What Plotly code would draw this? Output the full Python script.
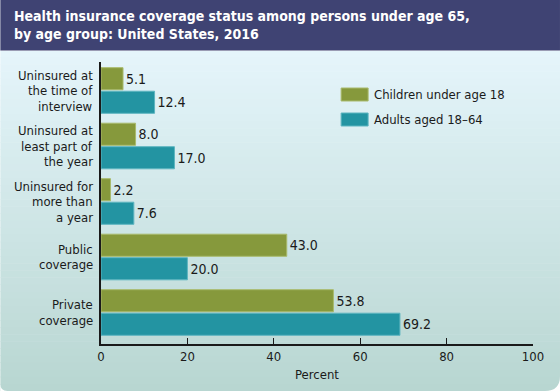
import plotly.graph_objects as go

categories = [
    "Uninsured at<br>the time of<br>interview",
    "Uninsured at<br>least part of<br>the year",
    "Uninsured for<br>more than<br>a year",
    "Public<br>coverage",
    "Private<br>coverage",
]
children = [5.1, 8.0, 2.2, 43.0, 53.8]
adults = [12.4, 17.0, 7.6, 20.0, 69.2]
series_names = ["Children under age 18", "Adults aged 18\u201364"]
x_ticks = [0, 20, 40, 60, 80, 100]
title_text = ("Health insurance coverage status among persons under age 65,<br>"
              "by age group: United States, 2016")

FONT = "DejaVu Sans Condensed, Liberation Sans Narrow, sans-serif"
GREEN, GREEN_EDGE = "#86993c", "#a9ba6c"
TEAL, TEAL_EDGE = "#2394a2", "#5db5c0"
TXT = "#1a1a1a"

W, H = 560, 391
L, R, T, B = 100.7, 27, 62, 47
PW, PH = W - L - R, H - T - B


def px(x):
    return (x - L) / PW


def py(y):
    return (H - B - y) / PH


idx = list(range(len(categories)))

fig = go.Figure()
fig.add_trace(go.Bar(
    y=idx, x=children, orientation="h", name=series_names[0],
    marker=dict(color=GREEN, line=dict(color=GREEN_EDGE, width=1)),
    text=[f"{v:.1f}" for v in children], textposition="outside",
    textfont=dict(family=FONT, size=14, color=TXT), cliponaxis=False,
    showlegend=False,
))
fig.add_trace(go.Bar(
    y=idx, x=adults, orientation="h", name=series_names[1],
    marker=dict(color=TEAL, line=dict(color=TEAL_EDGE, width=1)),
    text=[f"{v:.1f}" for v in adults], textposition="outside",
    textfont=dict(family=FONT, size=14, color=TXT), cliponaxis=False,
    showlegend=False,
))

shapes = []
# background gradient
top_c = (229, 245, 251)
bot_c = (184, 214, 209)
y0, y1 = 50, H
n = 48
for i in range(n):
    a = y0 + (y1 - y0) * i / n
    b = y0 + (y1 - y0) * (i + 1) / n
    t = (i + 0.5) / n
    c = tuple(round(top_c[k] + (bot_c[k] - top_c[k]) * t) for k in range(3))
    shapes.append(dict(type="rect", xref="paper", yref="paper",
                       x0=px(0), x1=px(W), y0=py(b + 0.5), y1=py(a),
                       fillcolor=f"rgb{c}", line=dict(width=0), layer="below"))
# banner
shapes.append(dict(type="rect", xref="paper", yref="paper",
                   x0=px(0), x1=px(W), y0=py(50), y1=py(0),
                   fillcolor="#3f4373", line=dict(width=0), layer="below"))
shapes.append(dict(type="line", xref="paper", yref="paper",
                   x0=px(0), x1=px(W), y0=py(50.5), y1=py(50.5),
                   line=dict(color="#9a9cb4", width=1), layer="below"))


# rounded corner masks
def corner(cx, cy, ex, ey, fx, fy):
    return (f"M {px(cx)},{py(cy)} L {px(ex)},{py(ey)} "
            f"Q {px(cx)},{py(cy)} {px(fx)},{py(fy)} Z")


shapes.append(dict(type="path", xref="paper", yref="paper",
                   path=corner(W, H, W, H - 15, W - 15, H),
                   fillcolor="white", line=dict(width=0), layer="below"))
shapes.append(dict(type="path", xref="paper", yref="paper",
                   path=corner(0, H, 0, H - 7, 7, H),
                   fillcolor="white", line=dict(width=0), layer="below"))

# legend swatches
for i, (col, edge) in enumerate([(GREEN, GREEN_EDGE), (TEAL, TEAL_EDGE)]):
    top = 88 + 25 * i
    shapes.append(dict(type="rect", xref="paper", yref="paper",
                       x0=px(341), x1=px(368), y0=py(top + 13), y1=py(top),
                       fillcolor=col, line=dict(color=edge, width=1)))

annotations = []
# title
annotations.append(dict(text=title_text, xref="paper", yref="paper",
                        x=px(12), y=py(25), xanchor="left", yanchor="middle",
                        align="left", showarrow=False,
                        font=dict(family=FONT, size=14, color="white",
                                  weight="bold")))

for i, name in enumerate(series_names):
    annotations.append(dict(text=name, xref="paper", yref="paper",
                            x=px(372), y=py(94.5 + 25 * i), xanchor="left",
                            yanchor="middle", showarrow=False,
                            font=dict(family=FONT, size=13, color=TXT)))

# category labels, one annotation per line
for i, cat in enumerate(categories):
    lines = cat.split("<br>")
    nl = len(lines)
    for j, ln in enumerate(lines):
        off = (j - (nl - 1) / 2) * 15.5
        annotations.append(dict(text=ln, xref="paper", yref="y",
                                x=px(95), y=i, yshift=-off,
                                xanchor="right", yanchor="middle",
                                showarrow=False,
                                font=dict(family=FONT, size=13, color=TXT)))

annotations.append(dict(text="Percent", xref="paper", yref="paper",
                        x=px(316.5), y=py(374), xanchor="center",
                        yanchor="middle", showarrow=False,
                        font=dict(family=FONT, size=13, color=TXT)))

fig.update_layout(
    width=W, height=H,
    margin=dict(l=L, r=R, t=T, b=B, pad=0),
    paper_bgcolor="white", plot_bgcolor="rgba(0,0,0,0)",
    barmode="group", bargap=0.153, bargroupgap=0.06,
    shapes=shapes, annotations=annotations,
    xaxis=dict(range=[0, 100], tickvals=x_ticks, ticks="inside", ticklen=6,
               tickwidth=1, tickcolor=TXT, showline=True, linecolor=TXT,
               linewidth=1.5, showgrid=False, zeroline=False,
               tickfont=dict(family=FONT, size=13, color=TXT)),
    yaxis=dict(range=[4.5676, -0.5135], showticklabels=False, ticks="",
               showline=True, linecolor=TXT, linewidth=1.5,
               showgrid=False, zeroline=False),
)

fig.write_html("out.html", config={"displayModeBar": False},
               post_script="document.body.style.margin='0px';")
